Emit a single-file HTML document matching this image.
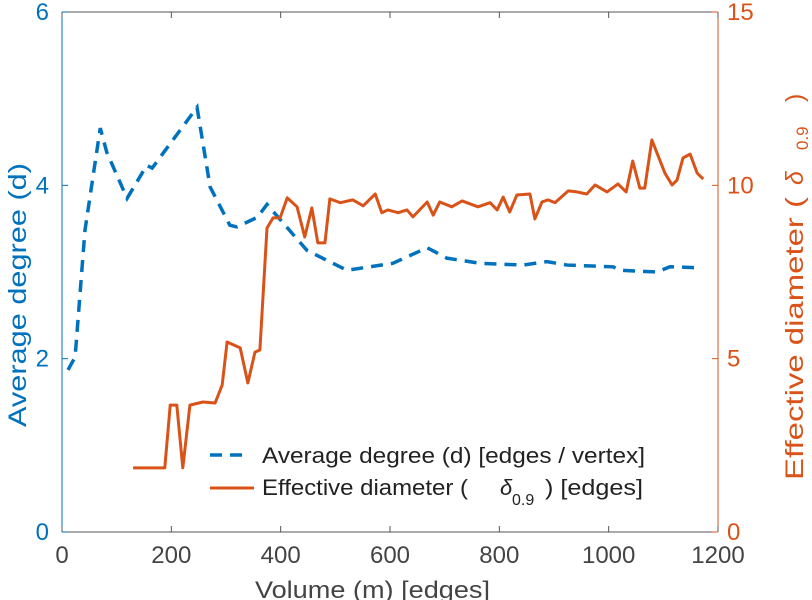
<!DOCTYPE html>
<html><head><meta charset="utf-8"><style>
html,body{margin:0;padding:0;background:#fff;}
svg{display:block;font-family:"Liberation Sans",sans-serif;}
</style></head><body>
<svg id="chart" width="812" height="600" viewBox="0 0 812 600" xmlns="http://www.w3.org/2000/svg"></svg>
<script>
const xTicks=[0,200,400,600,800,1000,1200];
const yLeftTicks=[0,2,4,6];
const yRightTicks=[0,5,10,15];
const degX=[11,24,42,70,82,119,155,165,247,271,307,320,357,375,448,521,605,668,704,765,843,887,924,1008,1021,1088,1112,1162];
const degY=[1.87,2.02,3.48,4.66,4.38,3.85,4.23,4.2,4.9,3.98,3.54,3.52,3.63,3.78,3.25,3.02,3.10,3.28,3.16,3.10,3.08,3.12,3.08,3.06,3.02,3.00,3.06,3.05];
const diaX=[130,188,198,210,221,234,258,280,293,302,326,340,353,362,375,386,399,412,430,444,457,468,481,490,509,532,551,573,585,596,615,631,642,668,679,691,713,732,761,783,796,807,819,832,856,865,878,889,902,926,942,960,975,997,1017,1032,1044,1057,1066,1079,1090,1103,1116,1125,1136,1149,1162,1173];
const diaY=[1.85,1.85,3.66,3.66,1.85,3.66,3.75,3.72,4.24,5.48,5.31,4.30,5.19,5.25,8.77,9.06,9.06,9.64,9.38,8.51,9.35,8.34,8.34,9.61,9.50,9.58,9.41,9.75,9.21,9.29,9.21,9.29,9.09,9.52,9.14,9.52,9.38,9.55,9.38,9.50,9.29,9.66,9.23,9.72,9.75,9.03,9.52,9.58,9.50,9.84,9.81,9.75,10.01,9.81,10.04,9.81,10.70,9.92,9.92,11.31,10.87,10.35,10.01,10.15,10.79,10.90,10.35,10.18];

const NS="http://www.w3.org/2000/svg";
const svg=document.getElementById('chart');
const L=62,R=718,T=12,B=532;
const sx=v=>L+(v-0)/1200*(R-L);
const syL=v=>B-v/6*(B-T);
const syR=v=>B-v/15*(B-T);
function mk(tag,attrs,parent){const e=document.createElementNS(NS,tag);for(const k in attrs)e.setAttribute(k,attrs[k]);(parent||svg).appendChild(e);return e;}
const BLUE="#0072BD",ORANGE="#D95319";

const ax=mk('line',{x1:L,y1:B,x2:R,y2:B,stroke:"#555",'stroke-width':1});


const topBorder=mk('line',{x1:L,y1:T,x2:R,y2:T,stroke:"#555",'stroke-width':1});


const al=mk('line',{x1:L,y1:T,x2:L,y2:B,stroke:BLUE,'stroke-width':1});


const ar=mk('line',{x1:R,y1:T,x2:R,y2:B,stroke:ORANGE,'stroke-width':1});



xTicks.forEach(v=>{
  const x=sx(v);
  mk('line',{x1:x,y1:B,x2:x,y2:B-6,stroke:"#555"});
  mk('line',{x1:x,y1:T,x2:x,y2:T+6,stroke:"#555"});
  const t=mk('text',{x:x,y:B+31,'text-anchor':'middle','font-size':24,fill:"#444"});
  t.textContent=v;
  
  
});
yLeftTicks.forEach(v=>{
  const y=syL(v);
  mk('line',{x1:L,y1:y,x2:L+6,y2:y,stroke:BLUE});
  const t=mk('text',{x:L-13,y:y+8,'text-anchor':'end','font-size':24,fill:BLUE});
  t.textContent=v;
  
  
});
yRightTicks.forEach(v=>{
  const y=syR(v);
  mk('line',{x1:R,y1:y,x2:R-6,y2:y,stroke:ORANGE});
  const t=mk('text',{x:R+9,y:y+8,'text-anchor':'start','font-size':24,fill:ORANGE});
  t.textContent=v;
  
  
});

const dp=mk('polyline',{points:degX.map((x,i)=>sx(x)+","+syL(degY[i])).join(" "),fill:"none",stroke:BLUE,'stroke-width':3.5,'stroke-dasharray':"12,8"});


const op=mk('polyline',{points:diaX.map((x,i)=>sx(x)+","+syR(diaY[i])).join(" "),fill:"none",stroke:ORANGE,'stroke-width':3,'stroke-linejoin':'round'});



const yl=mk('text',{x:0,y:0,transform:"translate(26,427) rotate(-90)",'font-size':25,fill:BLUE,textLength:264,lengthAdjust:"spacingAndGlyphs"});
yl.textContent="Average degree (d)";



const yrg=mk('g',{transform:"translate(803,480) rotate(-90)",fill:ORANGE});


const yr1=mk('text',{x:0,y:0,'font-size':25,textLength:283,lengthAdjust:"spacingAndGlyphs"},yrg);
yr1.textContent="Effective diameter (";
const yr2=mk('text',{x:295,y:0,'font-size':25,'font-style':'italic'},yrg);
yr2.textContent="δ";
const yr3=mk('text',{x:330,y:5,'font-size':17},yrg);
yr3.textContent="0.9";
const yr4=mk('text',{x:378,y:0,'font-size':25},yrg);
yr4.textContent=")";

const xl=mk('text',{x:255,y:598,'font-size':24,fill:"#444",textLength:235,lengthAdjust:"spacingAndGlyphs"});
xl.textContent="Volume (m) [edges]";



const lg=mk('g',{});


mk('line',{x1:210,y1:455,x2:250,y2:455,stroke:BLUE,'stroke-width':3.5,'stroke-dasharray':"12,8"},lg);
mk('line',{x1:210,y1:488,x2:254,y2:488,stroke:ORANGE,'stroke-width':3},lg);
const l1=mk('text',{x:262,y:463,'font-size':22,fill:"#222",textLength:383,lengthAdjust:"spacingAndGlyphs"},lg);
l1.textContent="Average degree (d) [edges / vertex]";


const l2g=mk('g',{fill:"#222"},lg);


const l2a=mk('text',{x:262,y:495,'font-size':22,textLength:206,lengthAdjust:"spacingAndGlyphs"},l2g);
l2a.textContent="Effective diameter (";
const l2b=mk('text',{x:500,y:495,'font-size':22,'font-style':'italic'},l2g);
l2b.textContent="δ";
const l2c=mk('text',{x:512,y:505,'font-size':16},l2g);
l2c.textContent="0.9";
const l2d=mk('text',{x:545,y:495,'font-size':22,textLength:98,lengthAdjust:"spacingAndGlyphs"},l2g);
l2d.textContent=") [edges]";
</script>
</body></html>
